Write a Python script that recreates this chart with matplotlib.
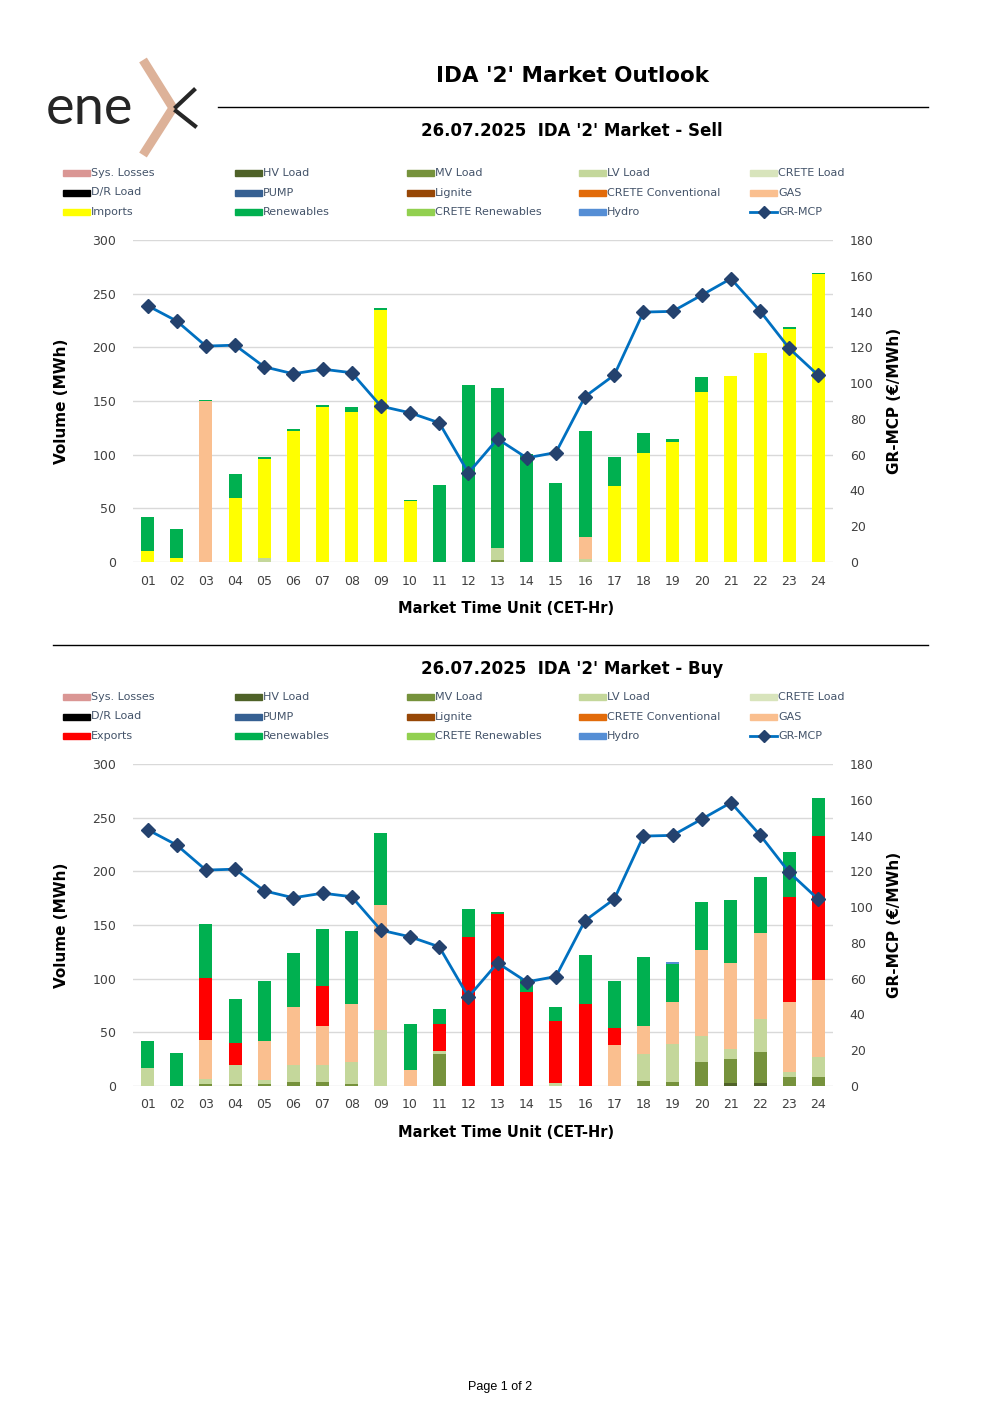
import numpy as np
import matplotlib.pyplot as plt
from matplotlib.patches import Rectangle
from matplotlib.lines import Line2D

hours = ['%02d' % h for h in range(1, 25)]

# GR-MCP (EUR/MWh), same in both panels
mcp = [143.3, 134.7, 120.7, 121.2, 109.1, 105.2, 107.8, 105.8, 87.1, 83.4, 77.8, 49.8,
       68.8, 58.2, 61.2, 92.5, 104.5, 139.7, 140.1, 149.2, 158.4, 140.3, 119.4, 104.3]

# Sell side (MWh)
sell_mv = [0, 0, 0, 0, 0, 0, 0, 0, 0, 0, 0, 0,
           2, 0, 0, 0, 0, 0, 0, 0, 0, 0, 0, 0]
sell_lv = [0, 0, 0, 0, 4, 0, 0, 0, 0, 0, 0, 0,
           11.5, 0, 0, 3, 0, 0, 0, 0, 0, 0, 0, 0]
sell_gas = [0, 0, 150, 0, 0, 0, 0, 0, 0, 0, 0, 0,
            0, 0, 0, 20, 0, 0, 0, 0, 0, 0, 0, 0]
sell_imports = [10, 4, 0, 60, 92, 122, 144, 140, 235, 56.5, 0, 0,
                0, 0, 0, 0, 71, 101.5, 112, 158, 173.6, 195, 217.5, 268]
sell_renew = [32, 27, 1, 22, 2, 1.5, 2.5, 4.5, 1.5, 1.5, 71.4, 165.2,
              149, 101, 73.6, 99, 27, 18.5, 3, 14, 0, 0, 1.2, 1]

# Buy side (MWh)
buy_hv = [0, 0, 0, 0, 0, 0, 0, 0, 0, 0, 0, 0,
          0, 0, 0, 0, 0, 0, 0, 0, 2.5, 2.5, 0, 0]
buy_mv = [0, 0, 2, 2, 2, 3.5, 3.5, 2, 0, 0, 30, 0,
          0, 0, 0, 0, 0, 4.7, 3.7, 22, 22.7, 29, 8.4, 8.4]
buy_lv = [17, 0, 4.5, 17.5, 4, 16, 16.5, 20, 52, 0, 3, 0,
          0, 0, 3, 0, 0, 25.5, 35.5, 25, 9, 31, 4.3, 18.3]
buy_gas = [0, 0, 36, 0, 36, 54, 36, 54, 117, 15, 0, 0,
           0, 0, 0, 0, 38.5, 26, 39, 80, 80, 80, 66, 72]
buy_exports = [0, 0, 58, 21, 0, 0, 37, 0, 0, 0, 24.5, 138.6,
               160, 88, 57.5, 76, 15.5, 0, 0, 0, 0, 0, 97.4, 134.6]
buy_renew = [25, 30.5, 50.5, 41, 56, 50, 53, 68, 67, 42.5, 14, 26,
             2, 12, 13, 46, 44, 63.7, 35, 44, 58.7, 52, 42.2, 35.2]
buy_hydro = [0, 0, 0, 0, 0, 0, 0, 0, 0, 0, 0, 0,
             0, 0, 0, 0, 0, 0, 2, 0.6, 0, 0, 0, 0]

C = {
    'Sys. Losses': '#DA9694', 'HV Load': '#4F6228', 'MV Load': '#76923C',
    'LV Load': '#C4D79B', 'CRETE Load': '#D8E4BC', 'D/R Load': '#000000',
    'PUMP': '#366092', 'Lignite': '#974706', 'CRETE Conventional': '#E26B0A',
    'GAS': '#FABF8F', 'Imports': '#FFFF00', 'Exports': '#FF0000',
    'Renewables': '#00B050', 'CRETE Renewables': '#92D050', 'Hydro': '#558ED5',
}
LINE = '#0070C0'
MARK = '#24426E'
TXT = '#404040'

W, H = 1000, 1415
fig = plt.figure(figsize=(10, 14.15), dpi=100)


def fx(x):
    return x / W


def fy(y):
    return 1 - y / H


# logo
fig.text(fx(46), fy(124), 'ene', fontsize=39, family='Lato', color='#262626', va='baseline')
fig.add_artist(Line2D([fx(143), fx(173), fx(143)], [fy(60), fy(108), fy(155)],
                      color='#DDB299', lw=6.5, solid_capstyle='butt', transform=fig.transFigure))
fig.add_artist(Line2D([fx(176), fx(194)], [fy(107), fy(90)], color='#262626', lw=3,
                      transform=fig.transFigure))
fig.add_artist(Line2D([fx(176), fx(195)], [fy(111), fy(126)], color='#262626', lw=3,
                      transform=fig.transFigure))

# header / footer
fig.text(fx(572), fy(76), "IDA '2' Market Outlook", fontsize=15.5, weight='bold',
         ha='center', va='center', color='#000000')
fig.add_artist(Line2D([fx(218), fx(928)], [fy(107), fy(107)], color='#000000', lw=1,
                      transform=fig.transFigure))
fig.add_artist(Line2D([fx(53), fx(928)], [fy(645), fy(645)], color='#000000', lw=1,
                      transform=fig.transFigure))
fig.text(fx(500), fy(1387), 'Page 1 of 2', fontsize=9, family='Liberation Sans',
         ha='center', va='center', color='#000000')


def legend(top, flow_name):
    names = [['Sys. Losses', 'HV Load', 'MV Load', 'LV Load', 'CRETE Load'],
             ['D/R Load', 'PUMP', 'Lignite', 'CRETE Conventional', 'GAS'],
             [flow_name, 'Renewables', 'CRETE Renewables', 'Hydro', 'GR-MCP']]
    xs = [63, 235, 407, 579, 750]
    for r, row in enumerate(names):
        y = top + r * 19.5
        for c, name in enumerate(row):
            x = xs[c]
            if name == 'GR-MCP':
                fig.add_artist(Line2D([fx(x), fx(x + 27)], [fy(y), fy(y)], color=LINE, lw=2,
                                      transform=fig.transFigure))
                fig.add_artist(Line2D([fx(x + 13.5)], [fy(y)], marker='D', ms=6, color=MARK,
                                      transform=fig.transFigure))
            else:
                fig.add_artist(Rectangle((fx(x), fy(y + 3)), 27 / W, 6 / H, color=C[name],
                                         transform=fig.transFigure))
            fig.text(fx(x + 28), fy(y), name, fontsize=8, color='#44546A', va='center')


def panel(top, title_y, subtitle, stacks):
    fig.text(fx(572), fy(title_y), subtitle, fontsize=12, weight='bold',
             ha='center', va='center', color='#000000')
    ax = fig.add_axes([fx(133), fy(top + 322), 700 / W, 322 / H])
    x = np.arange(24)
    bottom = np.zeros(24)
    for name, vals in stacks:
        v = np.array(vals, dtype=float)
        ax.bar(x, v, 0.45, bottom=bottom, color=C[name], zorder=2)
        bottom += v
    ax.set_xlim(-0.5, 23.5)
    ax.set_ylim(0, 300)
    ax.set_yticks(range(0, 301, 50))
    ax.set_xticks(x)
    ax.set_xticklabels(hours)
    ax.grid(axis='y', color='#D9D9D9', lw=1, zorder=0)
    for s in ax.spines.values():
        s.set_visible(False)
    ax.tick_params(length=0, labelsize=9, colors=TXT, pad=9)
    ax.tick_params(axis='y', pad=12)
    ax.set_ylabel('Volume (MWh)', fontsize=11, weight='bold', labelpad=17)
    ax.set_xlabel('Market Time Unit (CET-Hr)', fontsize=10.5, weight='bold', labelpad=8)
    ax.xaxis.set_label_coords((506 - 133) / 700, -0.12)

    ax2 = ax.twinx()
    ax2.plot(x, mcp, color=LINE, lw=2, marker='D', ms=7, mfc=MARK, mec=MARK, zorder=5)
    ax2.set_ylim(0, 180)
    ax2.set_yticks(range(0, 181, 20))
    for s in ax2.spines.values():
        s.set_visible(False)
    ax2.tick_params(length=0, labelsize=9, colors=TXT, pad=12)
    ax2.set_ylabel('GR-MCP (€/MWh)', fontsize=11, weight='bold', labelpad=10)
    return ax


panel(240, 131, "26.07.2025  IDA '2' Market - Sell",
      [('MV Load', sell_mv), ('LV Load', sell_lv), ('GAS', sell_gas),
       ('Imports', sell_imports), ('Renewables', sell_renew)])
legend(173, 'Imports')

panel(764, 669, "26.07.2025  IDA '2' Market - Buy",
      [('HV Load', buy_hv), ('MV Load', buy_mv), ('LV Load', buy_lv), ('GAS', buy_gas),
       ('Exports', buy_exports), ('Renewables', buy_renew), ('Hydro', buy_hydro)])
legend(697, 'Exports')

fig.savefig('out.png', dpi=100)
